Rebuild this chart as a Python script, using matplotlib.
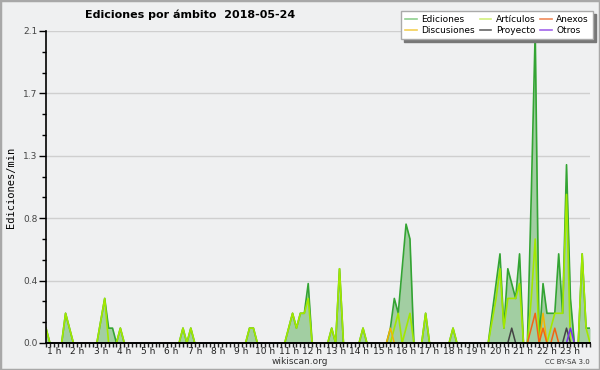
import numpy as np
import matplotlib
matplotlib.use("Agg")
import matplotlib.pyplot as plt
from matplotlib.lines import Line2D
from matplotlib.patches import Rectangle

# 10-minute bins, first bin 00:40, last 23:50 (one row per hour)
ediciones = (
    [0.1, 0]                              # 0 h (00:40, 00:50)
    + [0, 0, 0, 0.2, 0.1, 0]              # 1 h
    + [0, 0, 0, 0, 0, 0]                  # 2 h
    + [0.15, 0.3, 0.1, 0.1, 0, 0.1]       # 3 h
    + [0, 0, 0, 0, 0, 0]                  # 4 h
    + [0, 0, 0, 0, 0, 0]                  # 5 h
    + [0, 0, 0, 0.1, 0, 0.1]              # 6 h
    + [0, 0, 0, 0, 0, 0]                  # 7 h
    + [0, 0, 0, 0, 0, 0]                  # 8 h
    + [0, 0, 0.1, 0.1, 0, 0]              # 9 h
    + [0, 0, 0, 0, 0, 0]                  # 10 h
    + [0.1, 0.2, 0.1, 0.2, 0.2, 0.4]      # 11 h
    + [0, 0, 0, 0, 0, 0.1]                # 12 h
    + [0, 0.5, 0, 0, 0, 0]                # 13 h
    + [0, 0.1, 0, 0, 0, 0]                # 14 h
    + [0, 0, 0.1, 0.3, 0.2, 0.5]          # 15 h
    + [0.8, 0.7, 0, 0, 0, 0.2]            # 16 h
    + [0, 0, 0, 0, 0, 0]                  # 17 h
    + [0.1, 0, 0, 0, 0, 0]                # 18 h
    + [0, 0, 0, 0, 0.2, 0.4]              # 19 h
    + [0.6, 0.1, 0.5, 0.4, 0.3, 0.6]      # 20 h
    + [0, 0, 1.0, 2.1, 0, 0.4]            # 21 h
    + [0.2, 0.2, 0.2, 0.6, 0.2, 1.2]      # 22 h
    + [0.3, 0, 0, 0.6, 0.1, 0.1]          # 23 h
)

articulos = (
    [0.1, 0]
    + [0, 0, 0, 0.2, 0.1, 0]
    + [0, 0, 0, 0, 0, 0]
    + [0.15, 0.3, 0, 0, 0, 0.1]
    + [0, 0, 0, 0, 0, 0]
    + [0, 0, 0, 0, 0, 0]
    + [0, 0, 0, 0.1, 0, 0.1]
    + [0, 0, 0, 0, 0, 0]
    + [0, 0, 0, 0, 0, 0]
    + [0, 0, 0.1, 0.1, 0, 0]
    + [0, 0, 0, 0, 0, 0]
    + [0.1, 0.2, 0.1, 0.2, 0.2, 0.3]
    + [0, 0, 0, 0, 0, 0.1]
    + [0, 0.5, 0, 0, 0, 0]
    + [0, 0.1, 0, 0, 0, 0]
    + [0, 0, 0, 0.1, 0.2, 0]
    + [0.1, 0.2, 0, 0, 0, 0.2]
    + [0, 0, 0, 0, 0, 0]
    + [0.1, 0, 0, 0, 0, 0]
    + [0, 0, 0, 0, 0.15, 0.3]
    + [0.5, 0.1, 0.3, 0.3, 0.3, 0.4]
    + [0, 0, 0.3, 0.7, 0, 0]
    + [0, 0.1, 0.2, 0.2, 0.2, 1.0]
    + [0, 0, 0, 0.6, 0.1, 0]
)

# small series: only the non-zero bins
discusiones = {"15:20": 0.1, "21:50": 0.2}
anexos = {"21:20": 0.1, "21:30": 0.2, "21:50": 0.1, "22:20": 0.1}
proyecto = {"20:30": 0.1, "22:50": 0.1}
otros = {"23:00": 0.1}

start_h = 40 / 60
hours = start_h + np.arange(len(ediciones)) / 6
hour_labels = [f"{h} h" for h in range(1, 24)]


def expand(d):
    out = np.zeros(len(hours))
    for t, v in d.items():
        hh, mm = t.split(":")
        idx = int(round((int(hh) + int(mm) / 60 - start_h) * 6))
        out[idx] = v
    return out


def hide_flat_zero(vals):
    # runs of zeros sit on the axis line, don't draw them
    v = np.asarray(vals, dtype=float)
    nz = v > 0
    keep = nz.copy()
    keep[1:] |= nz[:-1]
    keep[:-1] |= nz[1:]
    return np.where(keep, v, np.nan)


bg = "#eff0f1"
fig = plt.figure(figsize=(6, 3.7), dpi=100, facecolor=bg)
ax = fig.add_axes([46 / 600, 27 / 370, 544 / 600, 312 / 370])
ax.set_facecolor(bg)

ax.fill_between(hours, ediciones, color="#a2cea2", lw=0)
ax.plot(hours, hide_flat_zero(ediciones), color="#33a433", lw=1.2)
ax.plot(hours, hide_flat_zero(articulos), color="#a2e800", lw=1.2)
ax.plot(hours, hide_flat_zero(expand(discusiones)), color="#f2b400", lw=1.1)
ax.plot(hours, hide_flat_zero(expand(anexos)), color="#f26414", lw=1.1)
ax.plot(hours, hide_flat_zero(expand(proyecto)), color="#444444", lw=1.1)
ax.plot(hours, hide_flat_zero(expand(otros)), color="#7a30e8", lw=1.1)

ax.set_xlim(hours[0], hours[-1])
ax.set_ylim(0, 2.1)
yt = np.linspace(0, 2.1, 6)
ax.set_yticks(yt)
ax.set_yticklabels([f"{v:.1f}" for v in yt])
ax.set_yticks(np.linspace(0, 2.1, 16), minor=True)
ax.set_xticks(range(1, 24))
ax.set_xticklabels(hour_labels)
ax.set_xticks(hours, minor=True)
ax.grid(axis="y", color="#cfcfcf", lw=1)
ax.set_axisbelow(True)

for s in ["top", "right"]:
    ax.spines[s].set_visible(False)
ax.spines["left"].set_linewidth(1.2)
ax.spines["bottom"].set_linewidth(1.4)
ax.spines["bottom"].set_zorder(5)
ax.tick_params(axis="x", which="both", length=3, width=1, pad=0,
               labelsize=6.5, colors="#222222")
ax.tick_params(axis="y", which="major", length=5, width=1, pad=1,
               labelsize=6.5, labelcolor="#444444")
ax.tick_params(axis="y", which="minor", length=3, width=1)

ax.set_ylabel("Ediciones/min", family="DejaVu Sans Mono", fontsize=7.5,
              labelpad=5)

fig.text(85 / 600, 1 - 15 / 370, "Ediciones por ámbito  2018-05-24",
         fontsize=8, fontweight="bold", va="center", ha="left")
fig.text(300 / 600, 1 - 362 / 370, "wikiscan.org", fontsize=6.5,
         ha="center", va="center", color="#333333")
fig.text(590 / 600, 1 - 362 / 370, "CC BY-SA 3.0", fontsize=5,
         ha="right", va="center", color="#333333")

handles = [
    Line2D([], [], color="#8fd08f", lw=1.2, label="Ediciones"),
    Line2D([], [], color="#f4cf55", lw=1.2, label="Discusiones"),
    Line2D([], [], color="#d2f07e", lw=1.2, label="Artículos"),
    Line2D([], [], color="#666666", lw=1.2, label="Proyecto"),
    Line2D([], [], color="#f08a5a", lw=1.2, label="Anexos"),
    Line2D([], [], color="#a264ea", lw=1.2, label="Otros"),
]
leg = fig.legend(handles=handles, ncol=3, loc="upper right",
                 bbox_to_anchor=(593 / 600, 1 - 11 / 370),
                 fontsize=6.5, frameon=True, fancybox=False,
                 shadow={"color": "#777777", "alpha": 1},
                 edgecolor="#aaaaaa", framealpha=1, borderpad=0.45,
                 labelspacing=0.2, handlelength=1.3, handletextpad=0.5,
                 columnspacing=0.5, borderaxespad=0)
leg.get_frame().set_linewidth(1)

fig.add_artist(Rectangle((0, 0), 1, 1, transform=fig.transFigure,
                         fill=False, edgecolor="#a8a8a8", lw=2.5))

fig.savefig("out.png", dpi=100, facecolor=bg)
